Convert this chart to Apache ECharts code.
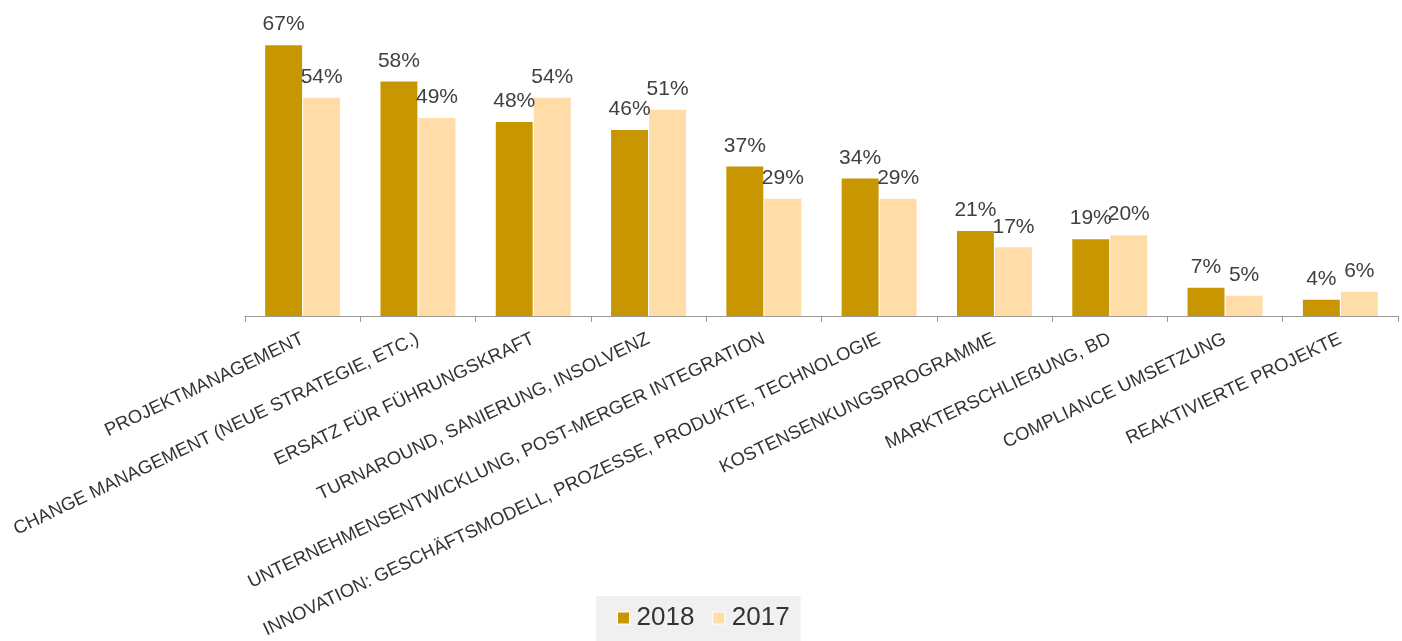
<!DOCTYPE html>
<html>
<head>
<meta charset="utf-8">
<script src="https://cdn.jsdelivr.net/npm/echarts@6/dist/echarts.min.js"></script>
<style>
  html, body { margin: 0; padding: 0; background: #fff; }
  #chart { width: 1402px; height: 641px; }
</style>
</head>
<body>
<div id="chart"></div>
<script>
// Kategorien der Auswertung
const categories = [
  'PROJEKTMANAGEMENT',
  'CHANGE MANAGEMENT (NEUE STRATEGIE, ETC.)',
  'ERSATZ FÜR FÜHRUNGSKRAFT',
  'TURNAROUND, SANIERUNG, INSOLVENZ',
  'UNTERNEHMENSENTWICKLUNG, POST-MERGER INTEGRATION',
  'INNOVATION: GESCHÄFTSMODELL, PROZESSE, PRODUKTE, TECHNOLOGIE',
  'KOSTENSENKUNGSPROGRAMME',
  'MARKTERSCHLIEẞUNG, BD',
  'COMPLIANCE UMSETZUNG',
  'REAKTIVIERTE PROJEKTE'
];
// Anteile in Prozent
const values2018 = [67, 58, 48, 46, 37, 34, 21, 19, 7, 4];
const values2017 = [54, 49, 54, 51, 29, 29, 17, 20, 5, 6];
const seriesNames = ['2018', '2017'];

const font = '"Liberation Sans", Arial, Helvetica, sans-serif';

const chart = echarts.init(document.getElementById('chart'));

const labelStyle = {
  show: true,
  position: 'top',
  distance: 10,
  formatter: '{c}%',
  color: '#404040',
  fontSize: 21,
  fontFamily: font
};

chart.setOption({
  animation: false,
  grid: { left: 245, right: 4, top: 33, bottom: 325, containLabel: false },
  legend: {
    top: 596,
    left: 596,
    backgroundColor: '#f0f0f0',
    padding: [9, 11, 20, 21],
    itemWidth: 12,
    itemHeight: 12,
    itemGap: 18,
    icon: 'rect',
    itemStyle: { borderColor: '#fff', borderWidth: 1 },
    textStyle: { fontSize: 26, color: '#333', fontFamily: font, padding: [0, 0, 0, 2] },
    data: seriesNames
  },
  xAxis: {
    type: 'category',
    data: categories,
    axisLine: { lineStyle: { color: '#9a9a9a', width: 1 } },
    axisTick: { show: true, alignWithLabel: false, length: 6, lineStyle: { color: '#9a9a9a' } },
    axisLabel: {
      rotate: 25.5,
      interval: 0,
      margin: 22,
      fontSize: 18.5,
      color: '#333',
      fontFamily: font
    }
  },
  yAxis: {
    type: 'value',
    min: 0,
    max: 70,
    show: false,
    splitLine: { show: false }
  },
  series: [
    {
      name: seriesNames[0],
      type: 'bar',
      data: values2018,
      barGap: '3%',
      barCategoryGap: '35%',
      itemStyle: { color: '#c89600' },
      label: labelStyle
    },
    {
      name: seriesNames[1],
      type: 'bar',
      data: values2017,
      itemStyle: { color: '#ffdca8' },
      label: labelStyle
    }
  ]
});
</script>
</body>
</html>
